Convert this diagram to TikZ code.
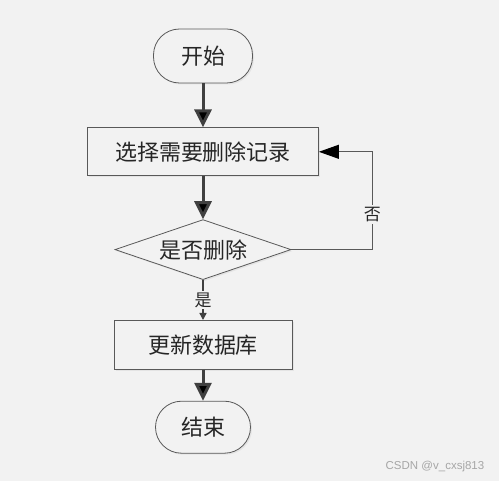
\documentclass[tikz,border=0pt]{standalone}
\usepackage{fontspec}
\newfontfamily\cjk{Noto Sans CJK SC}
\newfontfamily\wmfont{Liberation Sans}
\usetikzlibrary{positioning}
\usetikzlibrary{shapes.geometric}
\usetikzlibrary{arrows.meta}
\usetikzlibrary{shadows}
\definecolor{bg}{HTML}{F2F2F2}
\definecolor{edge}{HTML}{595959}
\definecolor{flow}{HTML}{404040}

\begin{document}
\begin{tikzpicture}[x=1pt,y=-1pt,node distance=44pt,thick]
\tikzstyle{base}=[draw=edge,line width=0.8pt,fill=bg,inner sep=0pt,font=\cjk\fontsize{22}{26}\selectfont,text=black!85,drop shadow={opacity=0.12,shadow xshift=1.5pt,shadow yshift=-1.5pt}]
\tikzstyle{term}=[base,rectangle,rounded corners=26pt,minimum width=99pt,minimum height=54pt]
\tikzstyle{proc}=[base,rectangle,minimum height=48pt]
\tikzstyle{dec}=[base,diamond,aspect=2.93,minimum width=176pt,minimum height=60pt]
\tikzstyle{flow}=[draw=flow,line width=3pt,-{Triangle[length=18pt,width=17pt]}]
\tikzstyle{thin}=[draw=edge,line width=1pt]
\tikzstyle{lbl}=[fill=bg,inner sep=2pt,font=\cjk\fontsize{17}{20}\selectfont,text=black!85]
\useasboundingbox[fill=bg] (0,0) rectangle (499,481);
\node[term]	(S0)	at (203,56)				{开始};
\node[proc, minimum width=231pt]	(S1)	[below = of S0]			{选择需要删除记录};
\node[dec]	(S2)	[below = 43pt of S1]		{是否删除};
\node[proc, minimum width=178pt, minimum height=49pt]	(S3)	[below = 40pt of S2]	{更新数据库};
\node[term, minimum width=95pt, minimum height=52pt]	(S4)	[below = 31pt of S3]	{结束};
\path[flow]	(S0)	edge	(S1)
	(S1)	edge	(S2)
	(S3)	edge	(S4);
\draw[thin, draw=flow, line width=1.4pt, -{Triangle[length=7pt,width=7pt]}] (S2.south) -- node[lbl]	{是}	(S3.north);
\draw[thin, -{Triangle[length=20pt,width=14pt,color=black]}] (S2.east) -- ++(81,0) |- node[lbl, pos=0.18]	{否}	(S1.east);
\node[anchor=east, text=black!35, font=\wmfont\fontsize{11.5}{13}\selectfont] (wm) at (488,467) {CSDN @v\_cxsj813};
\end{tikzpicture}
\end{document}
